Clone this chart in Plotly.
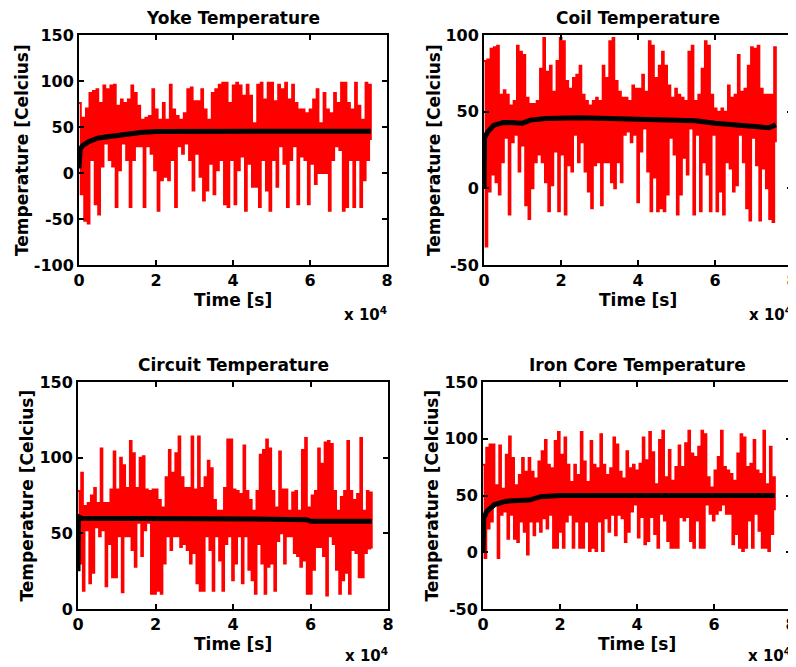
import plotly.graph_objects as go

# the page body has an 8px margin, so the figure is drawn 8px in from the window corner
PAGE_W, PAGE_H = 796, 667
OFF = 8
W, H = PAGE_W - OFF, PAGE_H - OFF
time_end_s = 75800

# ---------------- data ----------------
# Yoke: red raw samples (alternating highs / lows), black trend
yoke_peaks = [76, 60, 70, 87, 89, 91, 76, 95, 91, 95, 96, 73, 80, 76, 80, 95, 87, 73, 58, 60, 62, 91, 69, 58,
              76, 58, 96, 69, 62, 58, 65, 91, 93, 78, 78, 91, 69, 58, 87, 91, 96, 98,
              98, 76, 95, 98, 95, 84, 96, 84, 54, 96, 98, 80, 98, 98, 78, 96, 91, 98, 80, 96, 76, 69, 69, 65,
              69, 80, 91, 54, 87, 69, 65, 87, 76, 98, 98, 76, 69, 98, 73, 58, 98, 96]
yoke_dips = [-23, -52, -55, 14, -34, -45, 7, 32, 14, 7, -37, 3, 32, 14, -37, 14, 29, 29, -37, 29, 21, 3, -41, -8,
             -4, -8, 14, -37, 29, 21, 32, 14, -19, 21, -4, -30, -19, 10, -23, 3, 14, -34,
             -37, 14, -34, 3, 18, -41, 10, -15, -15, -37, 14, -19, -41, 14, -15, 29, 10, -37, 14, 29, -34, 18,
             14, -34, 10, -12, 0, 0, 0, -41, 14, 29, 25, -41, -37, 14, -37, 14, -37, -8, 14, 36]
yoke_trend_t = [0, 300, 1000, 2500, 5000, 8000, 12000, 16000, 20000, 30000, 40000, 50000, 60000, 70000, 75800]
yoke_trend_v = [5, 26, 30, 34, 38, 40, 42, 44, 45, 45.5, 45.5, 45.5, 45.5, 45.5, 45.5]

# Coil
coil_peaks = [83, 84, 91, 92, 93, 61, 64, 61, 54, 57, 93, 89, 87, 59, 55, 55, 57, 78, 98, 76, 80, 63, 83, 98, 96,
              70, 65, 72, 74, 80, 61, 57, 54, 57, 59, 57, 80, 72, 96, 98, 70, 63, 59, 59, 57, 67,
              65, 65, 74, 63, 96, 93, 72, 80, 89, 80, 67, 59, 65, 61, 59, 57, 89, 93, 57, 61, 78, 96, 93, 61,
              52, 50, 52, 50, 67, 59, 61, 87, 63, 65, 80, 92, 91, 93, 65, 61, 61, 61, 92]
coil_dips = [-38, -2, 9, 4, -4, 17, 33, -17, 30, 35, 11, 28, -11, -20, 0, 17, 22, 17, 4, -15, 2, 24, -15, 22, -17,
             15, 11, 35, 17, 30, 11, -2, -13, 15, 17, -11, 17, 17, 4, 0, 17, 4, 35, 37, 30, 35,
             -9, 24, 39, 11, -15, 7, -15, -13, -15, -4, 33, 22, -17, -4, 20, 9, 39, -17, 35, -15, 17, 9, -15,
             35, -15, -2, -17, 17, 13, -2, 2, 35, 17, -13, -21, 33, 15, -21, 13, 0, -20, -22, 30]
coil_trend_t = [0, 150, 1000, 2500, 5000, 8000, 10000, 12000, 16000, 25000, 35000, 45000, 55000, 60000, 65000,
                70000, 74000, 75800]
coil_trend_v = [0, 33, 37, 41, 43, 43, 42.5, 44.5, 45.5, 46, 45.5, 44.5, 44, 42.5, 41.5, 40.5, 39.5, 41.5]

# Circuit
circuit_peaks = [78, 90, 68, 70, 75, 80, 70, 106, 70, 70, 79, 104, 79, 100, 95, 80, 111, 103, 80, 100, 101, 79, 78,
                 79, 79, 72, 67, 87, 105, 90, 103, 114, 87, 80, 80, 114, 79, 114, 80, 87, 98, 93, 72, 65, 65,
                 80, 112, 112, 79,
                 78, 76, 108, 78, 72, 65, 78, 102, 105, 112, 106, 78, 67, 104, 79, 79, 65, 77, 78, 65, 105, 113,
                 67, 75, 78, 106, 96, 110, 111, 109, 78, 65, 74, 78, 111, 78, 72, 76, 113, 65, 78, 77]
circuit_dips = [30, 12, 52, 17, 24, 54, 48, 52, 15, 43, 21, 21, 48, 11, 48, 48, 39, 28, 57, 35, 52, 57, 10, 10, 12,
                10, 30, 48, 39, 48, 48, 41, 43, 39, 30, 37, 17, 12, 12, 48, 39, 12, 48, 32, 12, 43, 48,
                19, 30, 48, 17, 48, 26, 19, 10, 43, 30, 10, 28, 30, 12, 45, 50, 30, 48, 48, 37, 35, 28, 32, 10,
                10, 26, 41, 41, 35, 9, 48, 43, 26, 10, 19, 24, 10, 39, 37, 21, 21, 37, 40, 40]
circuit_trend_t = [0, 100, 1000, 15000, 30000, 45000, 59000, 60000, 70000, 75800]
circuit_trend_v = [25, 61, 60, 60, 59.5, 59.5, 59, 58, 58, 58]

# Iron core
iron_peaks = [77, 92, 95, 95, 59, 94, 56, 86, 102, 83, 59, 68, 83, 71, 83, 71, 65, 80, 89, 99, 77, 74, 98, 106, 86,
              101, 77, 62, 77, 68, 106, 80, 62, 98, 77, 74, 104, 77, 68, 74, 101, 95, 71, 65, 89, 74, 77,
              72, 78, 101, 81, 106, 88, 60, 99, 107, 66, 90, 63, 75, 94, 75, 96, 107, 87, 84, 93, 107, 104, 66,
              57, 72, 84, 107, 75, 72, 69, 63, 87, 104, 101, 75, 78, 99, 72, 69, 107, 60, 93, 66]
iron_dips = [-5, 21, 27, 42, -5, 33, 36, 12, 33, 12, 9, 27, 18, -2, 27, 15, 27, 18, 30, 21, 33, 4, 4, 18, 4, 27,
             33, 4, 27, 4, 4, 27, 1, 4, 1, 27, 1, 30, 18, 33, 15, 33, 30, 9, 18, 36, 42,
             13, 31, 7, 10, 31, 16, 4, 34, 28, 10, 4, 4, 4, 31, 28, 31, 10, 4, 28, 4, 4, 42, 34, 28, 34, 37,
             42, 34, 34, 7, 16, 4, 1, 4, 28, 4, 34, 19, 4, 4, 1, 16, 37]
iron_trend_t = [0, 200, 1000, 3000, 6000, 10000, 12000, 15000, 20000, 30000, 45000, 60000, 75800]
iron_trend_v = [0, 30, 36, 42, 45, 45.5, 46, 49, 50, 50, 50, 50, 50]

# ticks
x_tick_vals = [0, 20000, 40000, 60000, 80000]
x_tick_text = ['0', '2', '4', '6', '8']
yoke_yticks = [-100, -50, 0, 50, 100, 150]
coil_yticks = [-50, 0, 50, 100]
circuit_yticks = [0, 50, 100, 150]
iron_yticks = [-50, 0, 50, 100, 150]

titles = ['Yoke Temperature', 'Coil Temperature', 'Circuit Temperature', 'Iron Core Temperature']
x_title = 'Time [s]'
y_title = 'Temperature [Celcius]'
exp_label = 'x 10<sup>4</sup>'

# ---------------- layout (pixel boxes of each axes, in window pixels) ----------------
boxes = [  # left, right, top, bottom
    (79, 387, 35, 265),
    (484, 792, 35, 265),
    (78, 388, 382, 609),
    (483, 791, 382, 609),
]
ylabel_x = [22, 434, 27, 432]
exp_dy = [49, 49, 46, 46]

FONT = 'DejaVu Sans'


def px_x(v):
    return (v - OFF) / W


def px_y(v):
    return 1 - (v - OFF) / H


series = [
    (yoke_peaks, yoke_dips, yoke_trend_t, yoke_trend_v, yoke_yticks),
    (coil_peaks, coil_dips, coil_trend_t, coil_trend_v, coil_yticks),
    (circuit_peaks, circuit_dips, circuit_trend_t, circuit_trend_v, circuit_yticks),
    (iron_peaks, iron_dips, iron_trend_t, iron_trend_v, iron_yticks),
]

fig = go.Figure()
annotations = []
for i, (peaks, dips, tt, tv, yt) in enumerate(series):
    n = i + 1
    xa = 'x' if n == 1 else f'x{n}'
    ya = 'y' if n == 1 else f'y{n}'
    raw = [v for pair in zip(peaks, dips) for v in pair]
    t = [time_end_s * k / (len(raw) - 1) for k in range(len(raw))]
    fig.add_trace(go.Scatter(x=t, y=raw, mode='lines', xaxis=xa, yaxis=ya,
                             line=dict(color='#ff0000', width=2, shape='hv'), showlegend=False))
    fig.add_trace(go.Scatter(x=tt, y=tv, mode='lines', xaxis=xa, yaxis=ya,
                             line=dict(color='black', width=5), showlegend=False))
    l, r, top, bot = boxes[i]
    xd = [px_x(l), min(px_x(r), 1.0)]
    yd = [px_y(bot), px_y(top)]
    common = dict(showline=True, linecolor='black', linewidth=2, mirror='allticks', ticks='inside',
                  ticklen=5, tickwidth=1.5, tickcolor='black', showgrid=False, zeroline=False,
                  automargin=False, ticklabeloverflow='allow',
                  tickfont=dict(family=FONT, size=16, color='black', weight='bold'))
    fig.layout[('xaxis' if n == 1 else f'xaxis{n}')] = dict(
        domain=xd, anchor=ya, range=[0, 80000], tickmode='array', tickvals=x_tick_vals,
        ticktext=x_tick_text, **common)
    fig.layout[('yaxis' if n == 1 else f'yaxis{n}')] = dict(
        domain=yd, anchor=xa, range=[yt[0], yt[-1]], tickmode='array', tickvals=yt,
        ticktext=[str(v) for v in yt], **common)
    cx = (l + r) / 2
    annotations.append(dict(text=titles[i], x=px_x(cx), y=px_y(top - 17), xref='paper', yref='paper',
                            showarrow=False, xanchor='center', yanchor='middle',
                            font=dict(family=FONT, size=17, color='black', weight='bold')))
    annotations.append(dict(text=x_title, x=px_x(cx), y=px_y(bot + 35), xref='paper', yref='paper',
                            showarrow=False, xanchor='center', yanchor='middle',
                            font=dict(family=FONT, size=17, color='black', weight='bold')))
    annotations.append(dict(text=exp_label, x=px_x(r + 2), y=px_y(bot + exp_dy[i]), xref='paper',
                            yref='paper', showarrow=False, xanchor='right', yanchor='middle',
                            font=dict(family=FONT, size=15, color='black', weight='bold')))
    annotations.append(dict(text=y_title, x=px_x(ylabel_x[i]), y=px_y((top + bot) / 2), xref='paper',
                            yref='paper', showarrow=False, xanchor='center', yanchor='middle', textangle=-90,
                            font=dict(family=FONT, size=17, color='black', weight='bold')))

fig.update_layout(template='none', width=W, height=H, margin=dict(l=0, r=0, t=0, b=0, pad=0),
                  paper_bgcolor='white', plot_bgcolor='white', annotations=annotations, showlegend=False)
fig.write_html('out.html')
